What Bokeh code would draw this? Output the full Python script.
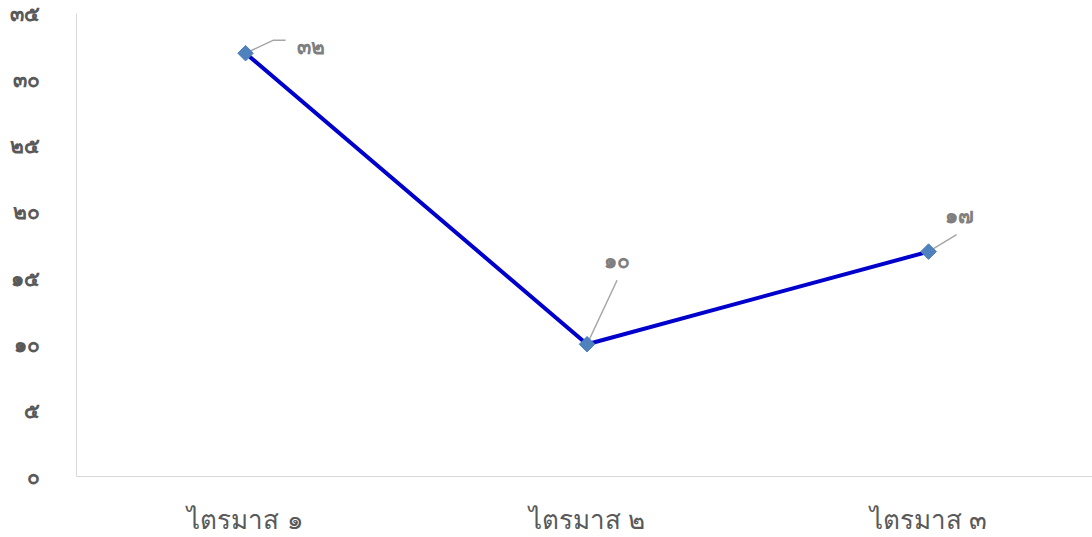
import math
from bokeh.plotting import figure
from bokeh.models import Range1d, FixedTicker, ColumnDataSource
from bokeh.embed import file_html
from bokeh.resources import INLINE

categories = ["ไตรมาส ๑", "ไตรมาส ๒", "ไตรมาส ๓"]
values = [32, 10, 17]
value_labels = ["๓๒", "๑๐", "๑๗"]
y_ticks = [0, 5, 10, 15, 20, 25, 30, 35]
y_tick_labels = ["๐", "๕", "๑๐", "๑๕", "๒๐", "๒๕", "๓๐", "๓๕"]

xs = list(range(len(categories)))

W, H = 1092, 537
left, right, top, bottom = 76, 0, 13, 61
XMIN, XMAX = -0.495, 2.48
p = figure(width=W, height=H, output_backend="svg", toolbar_location=None,
           x_range=Range1d(XMIN, XMAX), y_range=Range1d(0, 35),
           min_border_left=left, min_border_right=right,
           min_border_top=top, min_border_bottom=bottom)
p.outline_line_color = None
p.xgrid.visible = False
p.ygrid.visible = False

fw = W - left - right
fh = H - top - bottom
pxx = fw / (XMAX - XMIN)
pxy = fh / 35.0

# axes
p.xaxis.ticker = FixedTicker(ticks=xs)
p.xaxis.major_label_overrides = {i: c for i, c in enumerate(categories)}
p.yaxis.ticker = FixedTicker(ticks=y_ticks)
p.yaxis.major_label_overrides = {t: l for t, l in zip(y_ticks, y_tick_labels)}
for ax in (p.xaxis[0], p.yaxis[0]):
    ax.axis_line_color = "#d9d9d9"
    ax.axis_line_width = 1
    ax.major_tick_line_color = None
    ax.minor_tick_line_color = None
p.yaxis.major_label_text_font_size = "21px"
p.yaxis.major_label_text_font_style = "bold"
p.yaxis.major_label_text_color = "#595959"
p.yaxis.major_label_standoff = 31
p.xaxis.major_label_text_font_size = "26px"
p.xaxis.major_label_text_color = "#595959"
p.xaxis.major_label_standoff = 22

# line
p.line(xs, values, line_color="#0000cc", line_width=4)

# leader lines (pixel offsets relative to each point)
leaders = [[(0, 0), (28, 13), (40, 13)], [(0, 0), (30, 64)], [(0, 0), (28, 17)]]
lx = [[xs[i] + dx / pxx for dx, dy in pts] for i, pts in enumerate(leaders)]
ly = [[values[i] + dy / pxy for dx, dy in pts] for i, pts in enumerate(leaders)]
p.multi_line(lx, ly, line_color="#a6a6a6", line_width=1.5)

lab_off = [(65, 7), (30, 84), (31, 36)]
src = ColumnDataSource(dict(x=[xs[i] + lab_off[i][0] / pxx for i in xs],
                            y=[values[i] + lab_off[i][1] / pxy for i in xs],
                            t=value_labels))
p.text("x", "y", text="t", source=src, text_align="center", text_baseline="middle",
       text_font_size="21px", text_font_style="bold", text_color="#7f7f7f")

# markers
p.scatter(xs, values, marker="square", size=11, angle=math.pi / 4,
          fill_color="#4f81bd", line_color="#4f81bd")

open("out.html", "w").write(file_html(p, INLINE))
